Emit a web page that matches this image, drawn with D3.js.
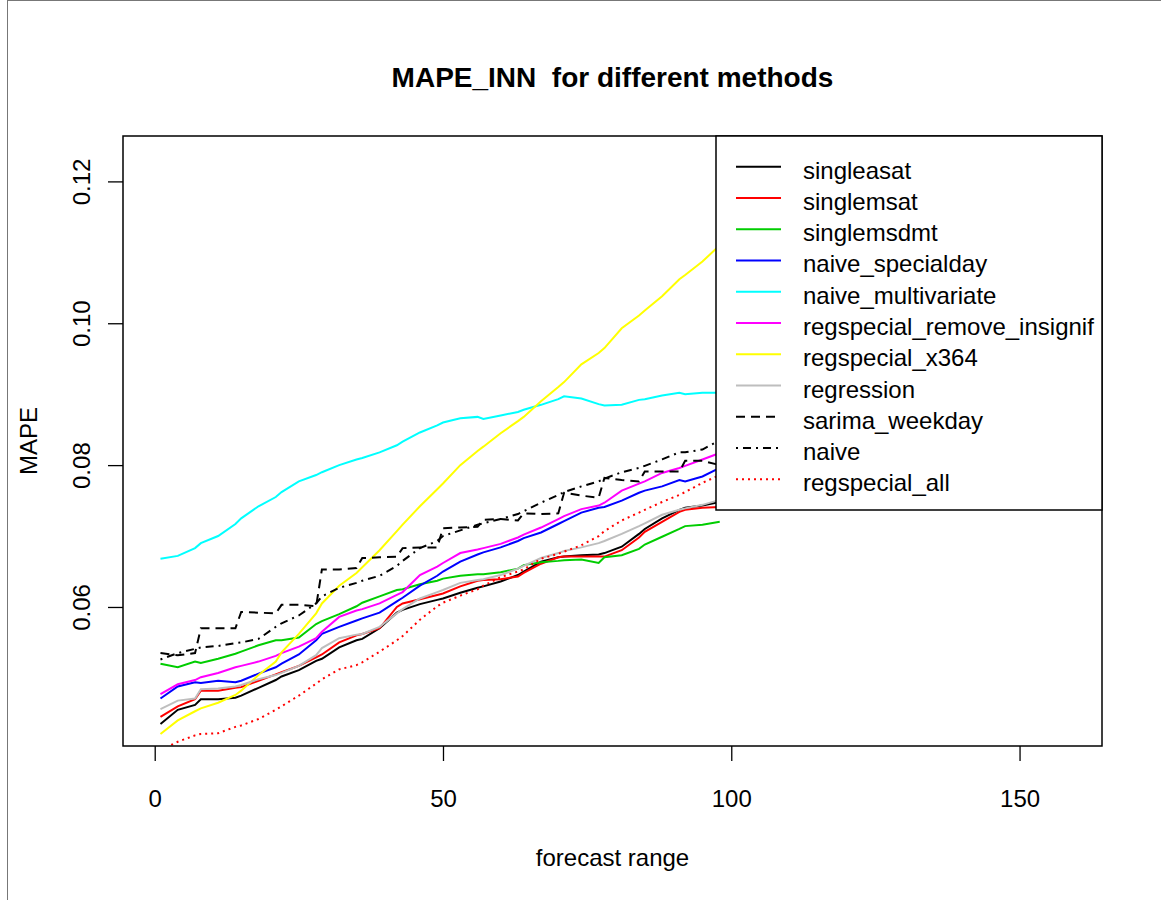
<html>
<head>
    <title>MAPE_INN for different methods</title>
    <style>
        body { margin: 0; background: white; }
        text { font-family: "Liberation Sans", Arial, sans-serif; fill: black; }
    </style>
</head>
<body>
    <svg id="chart" width="1161" height="900"></svg>
    <script src="https://d3js.org/d3.v7.min.js"></script>
    <script>
        // forecast range (days) at which the curves were read
        const range = [1, 4, 7, 8, 11, 14, 15, 18, 21, 22, 25, 28, 29, 32, 35, 36, 39, 42, 43, 46, 49,
                       50, 53, 56, 57, 60, 63, 64, 67, 70, 71, 74, 77, 78, 81, 84, 85, 88, 91, 92, 95, 98]

        const singleasat = [0.0435, 0.0455, 0.0462, 0.0470, 0.0470, 0.0472, 0.0475, 0.0486, 0.0497, 0.0502, 0.0511, 0.0524, 0.0527, 0.0543, 0.0553, 0.0555, 0.0570, 0.0592, 0.0596, 0.0604, 0.0610,
                            0.0612, 0.0620, 0.0627, 0.0629, 0.0636, 0.0645, 0.0650, 0.0664, 0.0670, 0.0671, 0.0673, 0.0674, 0.0676, 0.0685, 0.0703, 0.0710, 0.0725, 0.0737, 0.0740, 0.0743, 0.0748]
        const singlemsat = [0.0445, 0.0460, 0.0470, 0.0482, 0.0482, 0.0486, 0.0487, 0.0496, 0.0505, 0.0508, 0.0517, 0.0529, 0.0533, 0.0550, 0.0560, 0.0562, 0.0570, 0.0600, 0.0605, 0.0611, 0.0617,
                            0.0619, 0.0629, 0.0637, 0.0638, 0.0639, 0.0643, 0.0648, 0.0661, 0.0670, 0.0671, 0.0671, 0.0671, 0.0671, 0.0680, 0.0698, 0.0706, 0.0720, 0.0734, 0.0737, 0.0740, 0.0741]
        const singlemsdmt = [0.0520, 0.0515, 0.0523, 0.0521, 0.0527, 0.0534, 0.0537, 0.0546, 0.0553, 0.0553, 0.0557, 0.0576, 0.0580, 0.0590, 0.0601, 0.0606, 0.0615, 0.0624, 0.0625, 0.0632, 0.0637,
                             0.0640, 0.0644, 0.0646, 0.0646, 0.0649, 0.0654, 0.0659, 0.0663, 0.0665, 0.0666, 0.0667, 0.0662, 0.0670, 0.0673, 0.0682, 0.0688, 0.0699, 0.0710, 0.0714, 0.0716, 0.0720]
        const naiveSpecialday = [0.0471, 0.0488, 0.0494, 0.0493, 0.0496, 0.0494, 0.0496, 0.0506, 0.0515, 0.0520, 0.0533, 0.0553, 0.0562, 0.0572, 0.0581, 0.0584, 0.0592, 0.0608, 0.0613, 0.0630, 0.0644,
                                 0.0650, 0.0664, 0.0674, 0.0677, 0.0684, 0.0693, 0.0697, 0.0705, 0.0717, 0.0721, 0.0733, 0.0740, 0.0741, 0.0750, 0.0761, 0.0764, 0.0770, 0.0779, 0.0777, 0.0784, 0.0796]
        const naiveMultivariate = [0.0668, 0.0672, 0.0683, 0.0690, 0.0700, 0.0717, 0.0725, 0.0742, 0.0755, 0.0762, 0.0777, 0.0786, 0.0790, 0.0800, 0.0808, 0.0810, 0.0818, 0.0828, 0.0833, 0.0846, 0.0856,
                                   0.0860, 0.0866, 0.0868, 0.0865, 0.0870, 0.0875, 0.0878, 0.0885, 0.0893, 0.0897, 0.0894, 0.0886, 0.0884, 0.0885, 0.0892, 0.0893, 0.0898, 0.0902, 0.0900, 0.0902, 0.0902]
        const regspecialRemoveInsignif = [0.0477, 0.0491, 0.0497, 0.0501, 0.0507, 0.0515, 0.0517, 0.0523, 0.0531, 0.0535, 0.0544, 0.0556, 0.0565, 0.0586, 0.0595, 0.0597, 0.0605, 0.0617, 0.0621, 0.0645, 0.0657,
                                          0.0662, 0.0676, 0.0681, 0.0683, 0.0689, 0.0698, 0.0702, 0.0712, 0.0724, 0.0728, 0.0738, 0.0743, 0.0747, 0.0764, 0.0774, 0.0777, 0.0789, 0.0796, 0.0799, 0.0808, 0.0817]
        const regspecialX364 = [0.0421, 0.0440, 0.0453, 0.0457, 0.0465, 0.0476, 0.0482, 0.0504, 0.0523, 0.0536, 0.0562, 0.0591, 0.0605, 0.0630, 0.0648, 0.0656, 0.0680, 0.0707, 0.0716, 0.0742, 0.0766,
                                0.0774, 0.0800, 0.0820, 0.0826, 0.0845, 0.0862, 0.0868, 0.0890, 0.0910, 0.0917, 0.0942, 0.0958, 0.0965, 0.0993, 0.1011, 0.1018, 0.1038, 0.1062, 0.1068, 0.1087, 0.1110]
        const regression = [0.0456, 0.0468, 0.0471, 0.0484, 0.0485, 0.0488, 0.0490, 0.0498, 0.0504, 0.0507, 0.0517, 0.0532, 0.0542, 0.0556, 0.0561, 0.0562, 0.0572, 0.0591, 0.0597, 0.0612, 0.0621,
                            0.0624, 0.0634, 0.0638, 0.0639, 0.0645, 0.0654, 0.0658, 0.0669, 0.0676, 0.0679, 0.0684, 0.0690, 0.0693, 0.0703, 0.0714, 0.0718, 0.0730, 0.0737, 0.0739, 0.0744, 0.0751]
        const sarimaWeekday = [0.0535, 0.0532, 0.0535, 0.0570, 0.0570, 0.0570, 0.0593, 0.0592, 0.0591, 0.0603, 0.0603, 0.0601, 0.0653, 0.0653, 0.0655, 0.0669, 0.0670, 0.0671, 0.0683, 0.0684, 0.0684,
                               0.0711, 0.0712, 0.0713, 0.0723, 0.0724, 0.0722, 0.0732, 0.0731, 0.0732, 0.0761, 0.0757, 0.0754, 0.0782, 0.0779, 0.0777, 0.0791, 0.0791, 0.0791, 0.0806, 0.0806, 0.0800]
        const naive = [0.0526, 0.0535, 0.0541, 0.0543, 0.0545, 0.0549, 0.0550, 0.0555, 0.0572, 0.0577, 0.0588, 0.0605, 0.0615, 0.0627, 0.0634, 0.0637, 0.0644, 0.0658, 0.0665, 0.0683, 0.0693,
                       0.0700, 0.0708, 0.0716, 0.0718, 0.0724, 0.0731, 0.0735, 0.0747, 0.0758, 0.0762, 0.0770, 0.0777, 0.0781, 0.0790, 0.0796, 0.0799, 0.0808, 0.0818, 0.0818, 0.0822, 0.0835]
        const regspecialAll = [0.0398, 0.0410, 0.0419, 0.0421, 0.0422, 0.0431, 0.0433, 0.0442, 0.0455, 0.0460, 0.0475, 0.0492, 0.0498, 0.0512, 0.0518, 0.0522, 0.0537, 0.0553, 0.0559, 0.0582, 0.0601,
                               0.0606, 0.0616, 0.0625, 0.0630, 0.0642, 0.0650, 0.0653, 0.0668, 0.0675, 0.0678, 0.0687, 0.0700, 0.0707, 0.0722, 0.0733, 0.0737, 0.0748, 0.0758, 0.0762, 0.0775, 0.0786]

        const methods = ["singleasat", "singlemsat", "singlemsdmt", "naive_specialday", "naive_multivariate",
                         "regspecial_remove_insignif", "regspecial_x364", "regression", "sarima_weekday", "naive", "regspecial_all"]
        const xTicks = [0, 50, 100, 150]
        const yTicks = [0.06, 0.08, 0.10, 0.12]

        // line styles (R palette + lty)
        const colors = ["#000000", "#ff0000", "#00cd00", "#0000ff", "#00ffff", "#ff00ff", "#ffff00", "#bebebe", "#000000", "#000000", "#ff0000"]
        const dashes = [null, null, null, null, null, null, null, null, "9,6", "2,5,8,5", "2,4"]

        let values = [singleasat, singlemsat, singlemsdmt, naiveSpecialday, naiveMultivariate,
                      regspecialRemoveInsignif, regspecialX364, regression, sarimaWeekday, naive, regspecialAll]

        let svg = d3.select("#chart")
        let plotLeft = 123, plotRight = 1102, plotTop = 136, plotBottom = 746

        let x = d3.scaleLinear().domain([-5.5, 164.3]).range([plotLeft, plotRight])
        let y = d3.scaleLinear().domain([0.0404, 0.1264]).range([plotBottom, plotTop])

        // outer frame of the picture
        svg.append("line").attr("x1", 7.5).attr("x2", 7.5).attr("y1", 0).attr("y2", 900)
           .style("stroke", "#777").style("stroke-width", 1)
        svg.append("line").attr("x1", 7.5).attr("x2", 1161).attr("y1", 0.5).attr("y2", 0.5)
           .style("stroke", "#777").style("stroke-width", 1)

        svg.append("clipPath").attr("id", "plotClip")
           .append("rect").attr("x", plotLeft).attr("y", plotTop)
           .attr("width", plotRight - plotLeft).attr("height", plotBottom - plotTop)

        let line = d3.line().x((d, i) => x(range[i])).y(d => y(d))

        svg.append("g").attr("clip-path", "url(#plotClip)")
           .selectAll("path")
           .data(values)
           .join("path")
           .attr("d", d => line(d))
           .style("fill", "none")
           .style("stroke", (d, i) => colors[i])
           .style("stroke-width", 2)
           .style("stroke-dasharray", (d, i) => dashes[i])

        // axes
        let xAxis = d3.axisBottom(x).tickValues(xTicks).tickSize(15).tickPadding(29).tickSizeOuter(0)
        let gx = svg.append("g").attr("transform", `translate(0,${plotBottom})`).call(xAxis)
        gx.select(".domain").remove()
        gx.selectAll("line").style("stroke", "black").style("stroke-width", 1.3)
        gx.selectAll("text").style("font-size", "24px").style("fill", "black")

        let yAxis = d3.axisLeft(y).tickValues(yTicks).tickSize(15).tickFormat(d3.format(".2f")).tickSizeOuter(0)
        let gy = svg.append("g").attr("transform", `translate(${plotLeft},0)`).call(yAxis)
        gy.select(".domain").remove()
        gy.selectAll("line").style("stroke", "black").style("stroke-width", 1.3)
        gy.selectAll("text")
          .attr("x", null).attr("dy", null)
          .attr("transform", "translate(-33,0) rotate(-90)")
          .attr("text-anchor", "middle")
          .style("font-size", "24px").style("fill", "black")

        // plot box
        svg.append("rect").attr("x", plotLeft).attr("y", plotTop)
           .attr("width", plotRight - plotLeft).attr("height", plotBottom - plotTop)
           .style("fill", "none").style("stroke", "black").style("stroke-width", 1.5)

        // titles
        svg.append("text").attr("x", (plotLeft + plotRight) / 2).attr("y", 87).attr("text-anchor", "middle")
           .style("font-size", "28px").style("font-weight", "bold").style("white-space", "pre")
           .text("MAPE_INN  for different methods")
        svg.append("text").attr("x", (plotLeft + plotRight) / 2).attr("y", 866).attr("text-anchor", "middle")
           .style("font-size", "24px").text("forecast range")
        svg.append("text").attr("transform", `translate(37,${(plotTop + plotBottom) / 2}) rotate(-90)`)
           .attr("text-anchor", "middle").style("font-size", "24px").text("MAPE")

        // legend
        let legend = svg.append("g")
        legend.append("rect").attr("x", 716).attr("y", plotTop).attr("width", plotRight - 716).attr("height", 510 - plotTop)
              .style("fill", "white").style("stroke", "black").style("stroke-width", 1.5)
        let rows = legend.selectAll("g.row").data(methods).join("g")
                         .attr("class", "row")
                         .attr("transform", (d, i) => `translate(0,${166.7 + i * 31.26})`)
        rows.append("line").attr("x1", 736).attr("x2", 781)
            .style("stroke", (d, i) => colors[i]).style("stroke-width", 2)
            .style("stroke-dasharray", (d, i) => dashes[i])
        rows.append("text").attr("x", 803).attr("y", 12).style("font-size", "24px").text(d => d)
    </script>
</body>
</html>
